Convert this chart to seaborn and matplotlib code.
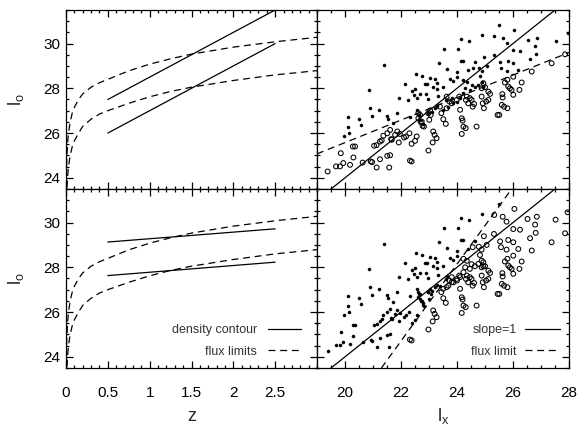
import matplotlib
matplotlib.use("Agg")
import matplotlib.pyplot as plt
import pandas as pd
import seaborn as sns
from matplotlib.ticker import MultipleLocator

# flux limit curves in the l_o - z plane
flux_z = [0.0025, 0.005, 0.01, 0.02, 0.03, 0.05, 0.075, 0.1, 0.15, 0.2, 0.3, 0.4, 0.5,
          0.75, 1.0, 1.25, 1.5, 2.0, 2.5, 3.0]
flux_hi = [23.5, 24.2, 24.9, 25.6, 26.0, 26.5, 26.9, 27.15, 27.5, 27.75, 28.05, 28.25, 28.4,
           28.78, 29.08, 29.32, 29.53, 29.84, 30.08, 30.28]
flux_lo = [22.0, 22.7, 23.4, 24.1, 24.5, 25.0, 25.4, 25.65, 26.0, 26.3, 26.62, 26.85, 27.0,
           27.33, 27.62, 27.86, 28.05, 28.35, 28.6, 28.79]

# density contours
contour_z = [0.5, 2.5]
contour_top_hi = [27.5, 31.5]
contour_top_lo = [26.0, 30.0]
contour_bot_hi = [29.13, 29.72]
contour_bot_lo = [27.63, 28.23]

# lines in the l_o - l_x panels
fit_lx = [19.0, 28.0]
fit_lo = [25.07, 29.6]
slope1_lx = [19.0, 28.0]
slope1_lo = [23.0, 32.0]
fluxlim_lx = [21.3, 25.95]
fluxlim_lo = [23.5, 31.5]

# sources, split by symbol: (top panel / bottom panel)
# filled / filled
a_lx = [25.5, 24.88, 24.14, 24.42, 23.53, 24.05, 24.14, 24.23, 23.37, 24.63, 21.38, 23.65,
        23.99, 24.40, 22.52, 22.75, 23.04, 23.21, 23.30, 23.75, 23.87, 24.0, 22.14, 22.50,
        22.40, 22.86, 22.92, 23.15, 23.27, 23.51, 20.85, 21.94, 22.26, 22.48, 22.68, 22.56,
        22.88, 22.95, 23.31, 23.61, 20.90, 21.23, 20.98, 21.49, 21.52, 20.51, 20.12, 20.12,
        20.57, 20.15, 19.95, 21.85, 22.32, 22.56, 22.65, 22.68, 22.80, 22.98, 23.10, 23.21,
        23.27, 21.73]
a_lo = [30.84, 30.40, 30.22, 30.13, 29.74, 29.74, 29.22, 29.24, 29.15, 29.18, 29.03, 28.85,
        28.75, 28.83, 28.64, 28.55, 28.45, 28.42, 28.24, 28.43, 28.33, 28.49, 28.20, 27.96,
        27.88, 28.20, 28.20, 28.05, 27.97, 28.08, 27.93, 27.55, 27.48, 27.71, 27.75, 27.57,
        27.74, 27.53, 27.66, 27.48, 27.10, 27.04, 26.75, 26.77, 26.63, 26.62, 26.71, 26.29,
        26.37, 25.99, 25.85, 26.89, 26.74, 27.04, 26.81, 26.59, 26.41, 26.89, 26.96, 27.11,
        27.21, 26.44]
# open / open
b_lx = [22.32, 22.38, 22.98, 23.15, 23.20, 23.27, 23.13, 23.44, 23.51, 23.60, 23.63, 23.73,
        23.81, 23.99, 24.08, 24.11, 24.17, 24.20, 24.23, 24.17, 24.31, 24.40, 24.46, 24.52,
        24.56, 24.61, 24.70, 24.88, 24.92, 24.96, 25.04, 25.12, 25.18, 24.88, 24.94, 25.0,
        25.12, 24.32, 24.35, 25.45, 25.51, 25.62, 25.63, 25.60, 25.68, 25.80, 25.71, 25.80,
        25.83, 25.89, 25.95, 26.01, 26.01, 26.23, 26.31, 26.67, 27.38, 27.86]
b_lo = [24.77, 24.73, 25.22, 26.07, 25.92, 25.77, 25.58, 26.89, 26.62, 26.41, 27.11, 27.41,
        27.33, 27.48, 27.63, 27.04, 26.66, 26.56, 26.29, 25.96, 26.22, 27.33, 27.56, 27.48,
        27.18, 27.30, 26.29, 27.63, 27.33, 27.11, 27.41, 27.48, 27.75, 28.0, 28.23, 28.05,
        27.85, 27.48, 27.63, 26.81, 26.81, 27.74, 27.59, 27.26, 27.18, 27.11, 28.26, 28.38,
        28.08, 28.0, 27.93, 27.71, 28.52, 27.93, 28.26, 28.75, 29.12, 29.52]
# open / filled
c_lx = [19.38, 19.68, 19.82, 19.94, 20.18, 19.85, 20.28, 20.36, 20.30, 20.63, 20.92, 20.97,
        21.13, 21.25, 21.51, 21.61, 21.58, 21.04, 21.13, 21.25, 21.31, 21.37, 21.51, 21.61,
        21.65, 21.67, 21.79, 21.87, 21.96, 21.92, 22.11, 22.18, 22.30, 22.38, 22.50, 22.56,
        22.62, 22.70, 22.74, 22.77, 22.82, 22.62, 22.68, 22.98, 23.04, 23.06, 23.01, 23.39,
        23.63]
c_lo = [24.28, 24.51, 24.51, 24.66, 24.58, 25.10, 25.40, 25.40, 24.91, 24.68, 24.73, 24.70,
        24.46, 24.83, 24.98, 25.01, 24.46, 25.43, 25.46, 25.62, 25.67, 25.88, 25.99, 26.14,
        25.73, 25.70, 25.92, 26.07, 25.96, 25.58, 25.80, 25.85, 25.99, 25.52, 25.65, 25.85,
        26.66, 26.50, 26.51, 26.32, 26.29, 26.89, 26.81, 26.89, 27.01, 26.81, 26.59, 27.18,
        27.63]
# filled / open
d_lx = [26.05, 27.95, 25.33, 25.63, 25.77, 26.52, 26.85, 27.52, 26.25, 26.79, 26.81, 25.32,
        26.01, 24.96, 25.54, 25.83, 26.01, 26.61, 24.56, 24.78, 24.88, 25.06, 25.57, 25.77,
        26.19, 24.23, 24.35, 24.52, 24.82, 24.88, 23.81, 23.51, 23.69, 23.87, 24.0, 24.11,
        24.23, 24.29, 24.46, 24.64, 24.76, 24.94]
d_lo = [30.61, 30.46, 30.34, 30.26, 30.04, 30.16, 30.26, 30.13, 29.68, 29.91, 29.54, 29.49,
        29.71, 29.39, 29.16, 29.22, 29.12, 29.30, 28.90, 28.92, 28.79, 29.0, 28.90, 28.79,
        28.82, 28.38, 28.29, 28.14, 28.55, 28.30, 27.56, 27.04, 27.18, 27.33, 27.41, 27.56,
        27.78, 28.0, 27.93, 28.05, 28.15, 28.05]

sns.set_style("ticks")
plt.rcParams["font.family"] = ["Liberation Sans", "DejaVu Sans"]
plt.rcParams["mathtext.default"] = "regular"
plt.rcParams["lines.scale_dashes"] = False
plt.rcParams["lines.dashed_pattern"] = [5.0, 3.4]

groups = {"a": (a_lx, a_lo), "b": (b_lx, b_lo), "c": (c_lx, c_lo), "d": (d_lx, d_lo)}
pts = pd.concat([pd.DataFrame({"lx": x, "lo": y, "grp": g}) for g, (x, y) in groups.items()],
                ignore_index=True)

W, H = 578, 425
fig = plt.figure(figsize=(W / 100, H / 100), dpi=100)
x0, xm, x1 = 66, 317, 569
y0, ym, y1 = 10, 189, 368


def box(xa, xb, ya, yb):
    return [xa / W, 1 - yb / H, (xb - xa) / W, (yb - ya) / H]


ax_tl = fig.add_axes(box(x0, xm, y0, ym))
ax_tr = fig.add_axes(box(xm, x1, y0, ym))
ax_bl = fig.add_axes(box(x0, xm, ym, y1))
ax_br = fig.add_axes(box(xm, x1, ym, y1))

lw = 0.9
for ax, hi, lo in [(ax_tl, contour_top_hi, contour_top_lo), (ax_bl, contour_bot_hi, contour_bot_lo)]:
    sns.lineplot(x=flux_z, y=flux_hi, ax=ax, color="black", lw=lw, ls="--", sort=False)
    sns.lineplot(x=flux_z, y=flux_lo, ax=ax, color="black", lw=lw, ls="--", sort=False,
                 label="flux limits")
    sns.lineplot(x=contour_z, y=hi, ax=ax, color="black", lw=lw, sort=False,
                 label="density contour")
    sns.lineplot(x=contour_z, y=lo, ax=ax, color="black", lw=lw, sort=False)
    ax.set_xlim(0, 3)


def draw_points(ax, filled, hollow):
    sub = pts[pts["grp"].isin(hollow)]
    sns.scatterplot(data=sub, x="lx", y="lo", ax=ax, marker="o", s=12,
                    facecolors="none", edgecolor="black", linewidth=0.75, legend=False)
    sub = pts[pts["grp"].isin(filled)]
    sns.scatterplot(data=sub, x="lx", y="lo", ax=ax, marker="o", s=5,
                    color="black", edgecolor="black", linewidth=0.3, legend=False)


draw_points(ax_tr, ["a", "d"], ["b", "c"])
sns.lineplot(x=slope1_lx, y=slope1_lo, ax=ax_tr, color="black", lw=lw, sort=False)
sns.lineplot(x=fit_lx, y=fit_lo, ax=ax_tr, color="black", lw=lw, ls="--", sort=False)

draw_points(ax_br, ["a", "c"], ["b", "d"])
sns.lineplot(x=slope1_lx, y=slope1_lo, ax=ax_br, color="black", lw=lw, sort=False,
             label="slope=1")
sns.lineplot(x=fluxlim_lx, y=fluxlim_lo, ax=ax_br, color="black", lw=lw, ls="--", sort=False,
             label="flux limit")

for ax in [ax_tr, ax_br]:
    ax.set_xlim(19, 28)
    ax.xaxis.set_major_locator(MultipleLocator(2))
    ax.xaxis.set_minor_locator(MultipleLocator(0.5))
for ax in [ax_tl, ax_bl]:
    ax.xaxis.set_major_locator(MultipleLocator(0.5))
    ax.xaxis.set_minor_locator(MultipleLocator(0.1))

for ax in [ax_tl, ax_tr, ax_bl, ax_br]:
    ax.set_ylim(23.5, 31.5)
    ax.yaxis.set_major_locator(MultipleLocator(2))
    ax.yaxis.set_minor_locator(MultipleLocator(0.5))
    ax.tick_params(which="both", direction="in", top=True, right=True, color="black",
                   width=0.9, labelsize=11, labelcolor="black")
    ax.tick_params(which="major", length=5)
    ax.tick_params(which="minor", length=2.5)
    ax.tick_params(axis="x", pad=13)
    ax.tick_params(axis="y", pad=4)
    for sp in ax.spines.values():
        sp.set_color("black")
        sp.set_linewidth(0.9)
    ax.set_xlabel("")
    ax.set_ylabel("")

ax_tl.tick_params(labelbottom=False)
ax_tr.tick_params(labelbottom=False, labelleft=False)
ax_br.tick_params(labelleft=False)
ax_bl.set_xticks([0, 0.5, 1, 1.5, 2, 2.5])
ax_bl.set_xticklabels(["0", "0.5", "1", "1.5", "2", "2.5"])
ax_bl.set_xlim(0, 3)

for ax in [ax_tl, ax_bl]:
    ax.set_ylabel(r"$l_o$", fontsize=13)
    ax.yaxis.set_label_coords(-40 / 251, 0.5)
ax_bl.set_xlabel("z", fontsize=13)
ax_bl.xaxis.set_label_coords(0.5, -0.225)
ax_br.set_xlabel(r"$l_x$", fontsize=13)
ax_br.xaxis.set_label_coords(0.5, -0.215)

ax_tl.legend().remove()
h, l = ax_bl.get_legend_handles_labels()
order = [l.index("density contour"), l.index("flux limits")]
ax_bl.legend([h[i] for i in order], [l[i] for i in order], loc="lower right",
             bbox_to_anchor=(0.935, 0.058), frameon=False, markerfirst=False,
             fontsize=9, handlelength=2.6, handletextpad=0.9, labelspacing=0.75,
             borderpad=0, borderaxespad=0, labelcolor="#333333")
ax_br.legend(loc="lower right", bbox_to_anchor=(0.965, 0.058), frameon=False,
             markerfirst=False, fontsize=9, handlelength=2.8, handletextpad=0.7,
             labelspacing=0.75, borderpad=0, borderaxespad=0, labelcolor="#333333")

fig.savefig("out.png", dpi=100)
